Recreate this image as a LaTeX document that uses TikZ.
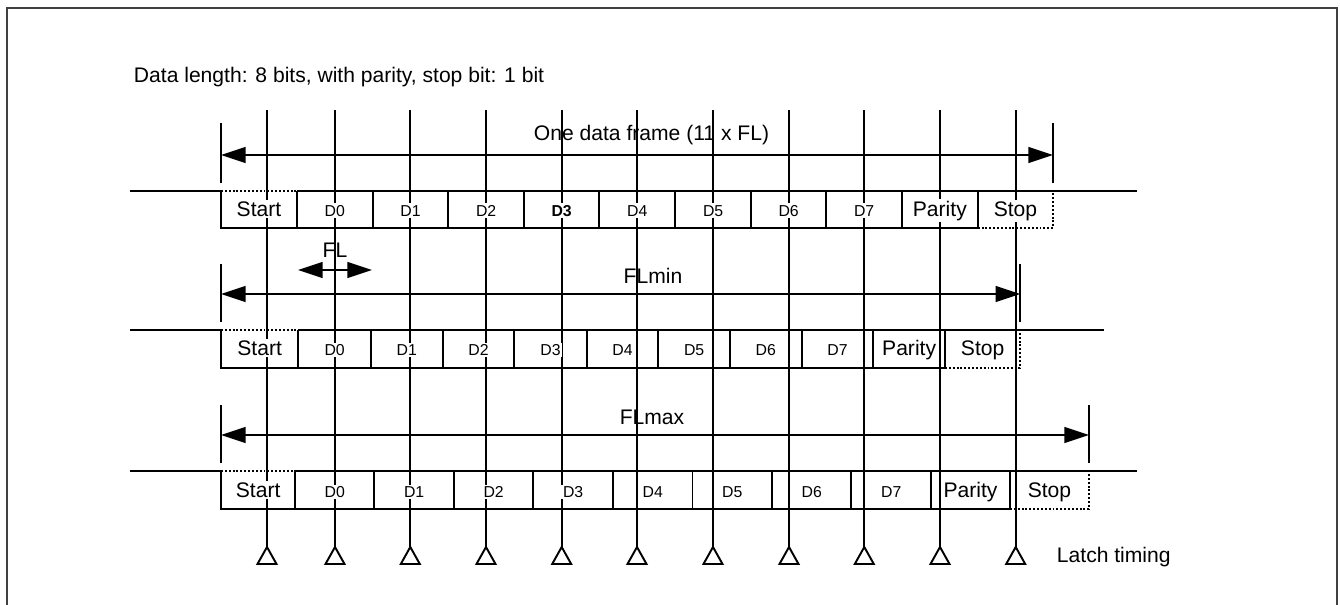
\documentclass[tikz,border=0pt]{standalone}
\usepackage{fontspec}
\setmainfont{Liberation Sans}
\usetikzlibrary{arrows.meta}

\begin{document}
\begin{tikzpicture}[
    x=0.02cm, y=-0.02cm,
    line width=1.1pt,
    dots/.style={dash pattern=on 1.1pt off 1.1pt},
    wordlbl/.style={anchor=base, fill=white, inner sep=1pt, font=\fontsize{12}{14}\selectfont},
    bitlbl/.style={anchor=base, fill=white, inner sep=1pt, font=\fontsize{9}{11}\selectfont},
    spanlbl/.style={anchor=base, inner sep=0pt, font=\fontsize{12}{14}\selectfont},
    span/.style={{Triangle[length=14pt,width=9pt]}-{Triangle[length=14pt,width=9pt]}}
]
\useasboundingbox (0,0) rectangle (1340,605);

% --- frame ---
\draw[black!75, line width=1.3pt] (7,612) -- (7,8) -- (1337,8) -- (1337,612);

\node[anchor=base west, inner sep=0pt, font=\fontsize{12}{14}\selectfont] (title) at (133,82)
    {Data length: 8 bits, with parity, stop bit: 1 bit};

% --- latch lines ---
\foreach \x [count=\k] in {267,335,410.3,486,561.7,637,713,789,864.3,940,1015.7} {
    \coordinate (top\k) at (\x,110);
    \coordinate (lt\k) at (\x,547);
    \draw (top\k) -- (lt\k);
    \draw (lt\k) -- ++(-9.5,17) -- ++(19,0) -- cycle;
}
\node[anchor=base west, inner sep=0pt, font=\fontsize{12}{14}\selectfont] (latch) at (1056,562) {Latch timing};

% --- one data frame ---
\coordinate (fa) at (221,155);
\coordinate (fb) at (1053,155);
\draw (221,123) -- (221,183);
\draw (1053,123) -- (1053,183);
\draw[span] (fa) -- (fb);
\node[spanlbl] (frame) at (651.5,140.7) {One data frame (11 x FL)};

% --- row 1 ---
\draw (130,191) -- (221,191) -- (221,228) -- (977.7,228);
\draw[dots] (221,191) -- (296.7,191);
\draw (296.7,191) -- (1137,191);
\draw[dots] (977.7,228) -- (1053.3,228) -- (1053.3,191);
\foreach \x in {296.7,372.7,448.3,524,599.3,675.3,751,826.3,902,977.7}
    \draw (\x,191) -- (\x,228);
\foreach \xa/\xb/\lbl/\st [count=\k] in {221.3/296.7/Start/wordlbl, 296.7/372.7/D0/bitlbl,
    372.7/448.3/D1/bitlbl, 448.3/524/D2/bitlbl, 524/599.3/{\textbf{D3}}/bitlbl,
    599.3/675.3/D4/bitlbl, 675.3/751/D5/bitlbl, 751/826.3/D6/bitlbl, 826.3/902/D7/bitlbl,
    902/977.7/Parity/wordlbl, 977.7/1053.3/Stop/wordlbl}
    \node[\st] (ra\k) at ({(\xa+\xb)/2},216) {\lbl};

% --- FL ---
\coordinate (fla) at (298,270);
\coordinate (flb) at (372,270);
\draw[span] (fla) -- (flb);
\node[spanlbl] (fl) at (335,257) {FL};

% --- FLmin ---
\coordinate (mina) at (221,294);
\coordinate (minb) at (1020.3,294);
\draw (221,264) -- (221,322);
\draw (1020.3,264) -- (1020.3,322);
\draw[span] (mina) -- (minb);
\node[spanlbl] (flmin) at (653,283.3) {FLmin};

% --- row 2 ---
\draw (130,330) -- (221,330) -- (221,367.7) -- (945,367.7);
\draw[dots] (221,330) -- (298.3,330);
\draw (298.3,330) -- (1104,330);
\draw[dots] (945,367.7) -- (1020.3,367.7) -- (1020.3,330);
\foreach \x in {298.3,371,442.7,514.3,586.7,658.3,730,801.7,873.3,945}
    \draw (\x,330) -- (\x,367.7);
\foreach \xa/\xb/\lbl/\st [count=\k] in {221/298.3/Start/wordlbl, 298.3/371/D0/bitlbl,
    371/442.7/D1/bitlbl, 442.7/514.3/D2/bitlbl, 514.3/586.7/D3/bitlbl,
    586.7/658.3/D4/bitlbl, 658.3/730/D5/bitlbl, 730/801.7/D6/bitlbl, 801.7/873.3/D7/bitlbl,
    873.3/945/Parity/wordlbl, 945/1020.3/Stop/wordlbl}
    \node[\st] (rb\k) at ({(\xa+\xb)/2},355.5) {\lbl};

% --- FLmax ---
\coordinate (maxa) at (221,435);
\coordinate (maxb) at (1089,435);
\draw (221,405) -- (221,463);
\draw (1089,405) -- (1089,463);
\draw[span] (maxa) -- (maxb);
\node[spanlbl] (flmax) at (652,424.3) {FLmax};

% --- row 3 ---
\draw (130,471) -- (221,471) -- (221,509) -- (1010,509);
\draw[dots] (221,471) -- (295.3,471);
\draw (295.3,471) -- (1137,471);
\draw[dots] (1010,509) -- (1089,509) -- (1089,471);
\foreach \x in {295.3,374.3,454,533.3,613,692.5,772,851.4,931,1010}
    \draw (\x,471) -- (\x,509);
\foreach \xa/\xb/\lbl/\st [count=\k] in {221/295.3/Start/wordlbl, 295.3/374.3/D0/bitlbl,
    374.3/454/D1/bitlbl, 454/533.3/D2/bitlbl, 533.3/613/D3/bitlbl,
    613/692.5/D4/bitlbl, 692.5/772/D5/bitlbl, 772/851.4/D6/bitlbl, 851.4/931/D7/bitlbl,
    931/1010/Parity/wordlbl, 1010/1089/Stop/wordlbl}
    \node[\st] (rc\k) at ({(\xa+\xb)/2},497.5) {\lbl};

\end{tikzpicture}
\end{document}
